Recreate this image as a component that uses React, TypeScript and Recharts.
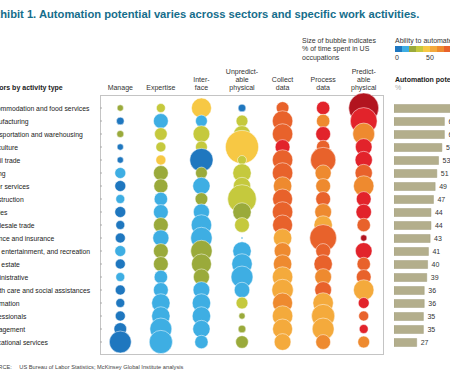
import React from 'react';
import {
  ScatterChart,
  Scatter,
  XAxis,
  YAxis,
  ZAxis,
  BarChart,
  Bar,
  LabelList,
} from 'recharts';

const FONT = 'Liberation Sans, Arial, sans-serif';

const sectors = [
  'Accommodation and food services',
  'Manufacturing',
  'Transportation and warehousing',
  'Agriculture',
  'Retail trade',
  'Mining',
  'Other services',
  'Construction',
  'Utilities',
  'Wholesale trade',
  'Finance and insurance',
  'Arts, entertainment, and recreation',
  'Real estate',
  'Administrative',
  'Health care and social assistances',
  'Information',
  'Professionals',
  'Management',
  'Educational services',
];

const activities = ['Manage', 'Expertise', 'Interface', 'Unpredictable physical', 'Collect data', 'Process data', 'Predictable physical'];
const activityHeaders = [
  ['Manage'],
  ['Expertise'],
  ['Inter-', 'face'],
  ['Unpredict-', 'able', 'physical'],
  ['Collect', 'data'],
  ['Process', 'data'],
  ['Predict-', 'able', 'physical'],
];

// % of time spent (bubble size)
const manageShare = [2, 3, 2.5, 2, 2, 6, 6, 4, 6, 4, 5, 6, 5, 4, 5, 4, 5, 8, 24];
const expertiseShare = [4, 11, 8, 5, 5, 11, 10, 9, 11, 11, 13, 11, 11, 9, 11, 17, 17, 24, 27];
const interfaceShare = [20, 7, 14, 7, 27, 7, 15, 8, 13, 21, 23, 23, 20, 13, 14, 17, 17, 15, 9];
const unpredictableShare = [3, 7, 14, 55, 4, 17, 15, 41, 17, 11, 0.2, 17, 21, 24, 12, 7, 2, 3, 8];
const collectShare = [8, 21, 21, 11, 21, 21, 17, 20, 21, 20, 17, 14, 17, 21, 23, 20, 21, 20, 14];
const processShare = [9, 9, 11, 9, 32, 13, 11, 11, 14, 17, 36, 11, 17, 14, 14, 21, 27, 24, 11];
const predictableShare = [45, 36, 24, 14, 15, 15, 21, 11, 12, 9, 2, 14, 9, 11, 21, 6, 5, 4, 7];

// ability to automate, % (bubble colour)
const manageAbility = [25, 5, 25, 5, 5, 15, 5, 15, 5, 5, 5, 15, 5, 15, 5, 5, 5, 5, 5];
const expertiseAbility = [35, 15, 35, 35, 45, 25, 25, 15, 15, 25, 15, 25, 25, 15, 15, 15, 15, 15, 15];
const interfaceAbility = [45, 15, 35, 35, 5, 25, 15, 25, 15, 15, 15, 25, 25, 25, 15, 15, 15, 15, 15];
const unpredictableAbility = [5, 35, 35, 45, 35, 35, 35, 35, 25, 35, 15, 15, 15, 15, 15, 35, 25, 25, 25];
const collectAbility = [75, 75, 75, 85, 75, 75, 65, 75, 75, 75, 55, 65, 65, 55, 55, 65, 55, 55, 55];
const processAbility = [85, 65, 85, 75, 75, 65, 65, 75, 65, 55, 75, 75, 75, 65, 75, 55, 55, 55, 65];
const predictableAbility = [95, 85, 65, 85, 85, 75, 65, 85, 85, 75, 95, 85, 75, 75, 55, 85, 75, 85, 65];

const automationPotential = [73, 60, 60, 57, 53, 51, 49, 47, 44, 44, 43, 41, 40, 39, 36, 36, 35, 35, 27];

const legendTicks = [0, 50, 100];

const palette = ['#1f77bf', '#3eaee3', '#9aaa3b', '#c5c93d', '#f7c844', '#f4aa3c', '#ee8a2f', '#e8622b', '#e2232b', '#b2141f'];
const colourFor = (a: number) => palette[Math.max(0, Math.min(9, Math.floor(a / 10)))];

const shares = [manageShare, expertiseShare, interfaceShare, unpredictableShare, collectShare, processShare, predictableShare];
const abilities = [manageAbility, expertiseAbility, interfaceAbility, unpredictableAbility, collectAbility, processAbility, predictableAbility];

const seriesData = activities.map((name, col) =>
  sectors.map((sector, row) => ({ activity: name, sector, col, row, share: shares[col][row], ability: abilities[col][row] }))
);

const barData = sectors.map((sector, i) => ({ sector, potential: automationPotential[i] }));

const Bubble = (props: any) => {
  const r = props.width ? props.width / 2 : Math.sqrt((props.size || 0) / Math.PI);
  const ability = props.payload ? props.payload.ability : props.ability;
  return <circle cx={props.cx} cy={props.cy} r={r} fill={colourFor(ability)} stroke="#fff" strokeOpacity={0.7} strokeWidth={0.7} />;
};

const HeaderTick = (props: any) => {
  const lines = activityHeaders[props.payload.value] || [];
  return (
    <g>
      {lines.map((l, i) => (
        <text key={i} x={props.x} y={89.8 - (lines.length - 1 - i) * 7.7} textAnchor="middle" fontSize={7} fontFamily={FONT} fill="#333">
          {l}
        </text>
      ))}
    </g>
  );
};

const SectorTick = (props: any) => (
  <text x={15.5} y={props.y} dy={2.5} textAnchor="start" fontSize={6.8} fontFamily={FONT} fill="#222">
    {sectors[props.payload.value]}
  </text>
);

export default function App() {
  return (
    <div style={{ position: 'fixed', left: 0, top: 0, width: 450, height: 375, overflow: 'hidden', background: '#fff', fontFamily: FONT }}>
      <div style={{ position: 'absolute', left: 100, top: 95, width: 284, height: 260, border: '1px solid #c4c4c4', boxSizing: 'border-box' }} />

      <div style={{ position: 'absolute', left: -30, top: 0 }}>
        <ScatterChart width={450} height={375} margin={{ top: 61.5, right: 36, bottom: 26.5, left: 0 }}>
          <XAxis
            type="number"
            dataKey="col"
            orientation="top"
            height={40}
            domain={[-0.5, 6.5]}
            ticks={activities.map((_, i) => i)}
            interval={0}
            tickLine={false}
            axisLine={false}
            tick={<HeaderTick />}
          />
          <YAxis
            type="number"
            dataKey="row"
            width={130}
            reversed
            domain={[-0.5, 18.5]}
            ticks={sectors.map((_, i) => i)}
            interval={0}
            axisLine={false}
            tickSize={-2}
            tickLine={{ stroke: '#aaa' }}
            tick={<SectorTick />}
          />
          <ZAxis type="number" dataKey="share" domain={[0, 60]} range={[0, 942.5]} />
          {seriesData.map((d, i) => (
            <Scatter key={activities[i]} name={activities[i]} data={d} shape={Bubble} isAnimationActive={false} />
          ))}
        </ScatterChart>
      </div>

      <div style={{ position: 'absolute', left: 394, top: 0 }}>
        <BarChart width={100} height={375} data={barData} layout="vertical" margin={{ top: 101.5, right: 16, bottom: 26.5, left: 0 }}>
          <XAxis type="number" domain={[0, 100]} hide />
          <YAxis type="category" dataKey="sector" hide />
          <Bar dataKey="potential" barSize={8} fill="#b3ae8c" stroke="#a29e7e" strokeWidth={0.5} isAnimationActive={false}>
            <LabelList dataKey="potential" position="right" offset={4} fontSize={7} fill="#333" fontFamily={FONT} />
          </Bar>
        </BarChart>
      </div>

      <svg width={450} height={375} style={{ position: 'absolute', left: 0, top: 0, pointerEvents: 'none' }}>
        <text x={-13.5} y={18} fontSize={11.2} fontWeight="bold" fill="#156d8b" fontFamily={FONT}>
          Exhibit 1. Automation potential varies across sectors and specific work activities.
        </text>
        <text x={302} fontSize={7} fill="#333" fontFamily={FONT}>
          <tspan x={302} y={43}>Size of bubble indicates</tspan>
          <tspan x={302} y={51.3}>% of time spent in US</tspan>
          <tspan x={302} y={59.6}>occupations</tspan>
        </text>
        <text x={395} y={43} fontSize={7} fill="#333" fontFamily={FONT}>Ability to automate</text>
        {palette.map((c, i) => (
          <rect key={c} x={395 + i * 7} y={46} width={7} height={6} fill={c} />
        ))}
        {legendTicks.map((t) => (
          <text key={t} x={395 + t * 0.7} y={60} textAnchor={t === 0 ? 'start' : 'middle'} fontSize={7} fill="#333" fontFamily={FONT}>
            {t}
          </text>
        ))}
        <text x={395} y={81.5} fontSize={7} fontWeight="bold" fill="#222" fontFamily={FONT}>Automation potential</text>
        <text x={395} y={89.5} fontSize={7} fill="#aaa" fontFamily={FONT}>%</text>
        <text x={-15.5} y={89.5} fontSize={7} fontWeight="bold" fill="#222" fontFamily={FONT}>Sectors by activity type</text>
        <text x={-14} y={369} fontSize={5.7} fill="#444" fontFamily={FONT}>SOURCE:</text>
        <text x={19.3} y={369} fontSize={5.7} fill="#444" fontFamily={FONT}>
          US Bureau of Labor Statistics; McKinsey Global Institute analysis
        </text>
      </svg>
    </div>
  );
}
